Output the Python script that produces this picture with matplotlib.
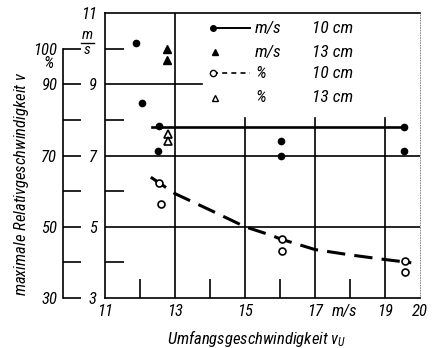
import matplotlib
matplotlib.use("Agg")
import matplotlib.pyplot as plt

plt.rcParams['font.family'] = ['Roboto Condensed', 'DejaVu Sans']
plt.rcParams['font.style'] = 'italic'
plt.rcParams['font.size'] = 12
plt.rcParams['mathtext.fontset'] = 'custom'
plt.rcParams['mathtext.it'] = 'Roboto Condensed:italic'
plt.rcParams['mathtext.rm'] = 'Roboto Condensed:italic'

# readings
ms10_x = [11.88, 12.05, 12.53, 12.50, 16.03, 16.03, 19.55, 19.55]
ms10_y = [10.15, 8.48, 7.82, 7.14, 7.41, 7.00, 7.79, 7.14]
ms13_x = [12.76, 12.76]
ms13_y = [9.99, 9.68]
pc10_x = [12.53, 12.59, 16.05, 16.05, 19.58, 19.58]
pc10_y = [62.3, 56.3, 46.6, 43.2, 40.3, 37.3]
pc13_x = [12.79, 12.79]
pc13_y = [76.0, 74.1]

fit_ms_x = [12.34, 19.60]
fit_ms_y = [7.80, 7.80]
fit_pc_x = [12.31, 13, 14, 15, 15.78, 16, 17, 18, 19, 19.75]
fit_pc_y = [63.9, 59.3, 54.7, 50.0, 47.5, 46.6, 43.6, 42.1, 40.8, 39.9]

ms_ticks = [3, 5, 7, 9, 11]
pc_ticks = [30, 40, 50, 60, 70, 80, 90, 100]
pc_labels = ['30', '', '50', '', '70', '', '90', '100']
x_ticks = [11, 13, 15, 17, 17.85, 19, 20]
x_labels = ['11', '13', '15', '17', 'm/s', '19', '20']

W, H = 432, 348
fig = plt.figure(figsize=(W / 100, H / 100), dpi=100)

def box(x0, y0, x1, y1):
    # pixel box (top-left origin) -> figure fraction
    return [x0 / W, 1 - y1 / H, (x1 - x0) / W, (y1 - y0) / H]

ax = fig.add_axes(box(105, 13, 420, 298))
ax.set_xlim(11, 20)
ax.set_ylim(3, 11)
k = 'black'
lw = 1.2

for s in ['left', 'bottom', 'top']:
    ax.spines[s].set_linewidth(lw)
ax.spines['right'].set_linestyle((0, (1, 2)))
ax.spines['right'].set_linewidth(0.6)
ax.spines['right'].set_color('0.45')

# grid lines of the nomogram
ax.axhline(5, color=k, lw=lw)
ax.axhline(7, color=k, lw=lw)
ax.plot([11, 13.76], [9, 9], color=k, lw=lw)
ax.axvline(13, color=k, lw=lw)
for xv in [15, 17, 19]:
    ax.plot([xv, xv], [3, 8.05], color=k, lw=lw)

ax.set_yticks(ms_ticks)
ax.set_yticklabels([str(t) for t in ms_ticks])
ax.set_yticks([4, 6, 8, 10], minor=True)
ax.set_xticks(x_ticks)
ax.set_xticklabels(x_labels)
ax.set_xticks([12, 14, 16, 18], minor=True)
ax.tick_params(which='major', length=0, pad=4)
ax.tick_params(axis='y', which='major', pad=6)
ax.tick_params(which='minor', direction='in', length=14, width=lw)
for lab in ax.get_yticklabels():
    if lab.get_text() == '11':
        lab.set_y(11.2)

# data
ax.plot(fit_ms_x, fit_ms_y, color=k, lw=1.9)
ax.plot(ms10_x, ms10_y, 'o', color=k, ms=4.5)
ax.plot(ms13_x, ms13_y, '^', color=k, ms=5.5)
ax.plot(fit_pc_x, [p / 10 for p in fit_pc_y], color=k, lw=2.2,
        dashes=(6, 3))
ax.plot(pc10_x, [p / 10 for p in pc10_y], 'o', mfc='white', mec=k,
        mew=1.2, ms=5)
ax.plot(pc13_x, [p / 10 for p in pc13_y], '^', mfc='white', mec=k,
        mew=1.2, ms=5.5)

# hand drawn legend
rows = [0.947, 0.863, 0.789, 0.702]
units = ['m/s', 'm/s', '%', '%']
sizes = ['10 cm', '13 cm', '10 cm', '13 cm']
T = ax.transAxes
ax.plot([0.343, 0.46], [rows[0]] * 2, color=k, lw=1.4, transform=T)
ax.plot([0.343], [rows[0]], 'o', color=k, ms=4, transform=T)
ax.plot([0.349], [rows[1]], '^', color=k, ms=4.5, transform=T)
ax.plot([0.343, 0.46], [rows[2]] * 2, color=k, lw=1.2, dashes=(3, 2.5),
        transform=T)
ax.plot([0.343], [rows[2]], 'o', mfc='white', mec=k, mew=1, ms=4.5,
        transform=T)
ax.plot([0.349], [rows[3]], '^', mfc='white', mec=k, mew=1, ms=4.5,
        transform=T)
for r, u, s in zip(rows, units, sizes):
    ax.text(0.476, r, u, transform=T, va='center', ha='left', fontsize=12.5)
    ax.text(0.657, r, s, transform=T, va='center', ha='left', fontsize=12.5)

ax.set_xlabel('Umfangsgeschwindigkeit $v_U$')
ax.xaxis.set_label_coords(0.48, -0.105)

# percent scale on the far left
axp = fig.add_axes(box(63, 13, 64, 298))
axp.set_ylim(30, 110)
for s in ['right', 'bottom', 'top']:
    axp.spines[s].set_visible(False)
axp.spines['left'].set_bounds(30, 100)
axp.spines['left'].set_linewidth(lw)
axp.set_xticks([])
axp.set_yticks(pc_ticks)
axp.set_yticklabels(pc_labels)
axp.tick_params(axis='y', direction='in', length=13, width=lw, pad=4)
axp.patch.set_visible(False)

fig.text(49 / W, 1 - 64 / H, '%', ha='center', va='center')
fig.text(87 / W, 1 - 35 / H, 'm', ha='center', va='center', fontsize=11)
fig.text(87 / W, 1 - 50 / H, 's', ha='center', va='center', fontsize=11)
fig.add_artist(plt.Line2D([81 / W, 94 / W], [1 - 42.5 / H] * 2, color=k,
                          lw=1))
fig.text(22 / W, 1 - 184 / H, 'maximale Relativgeschwindigkeit $v$',
         rotation=90, ha='center', va='center')

fig.savefig('out.png', dpi=100)
